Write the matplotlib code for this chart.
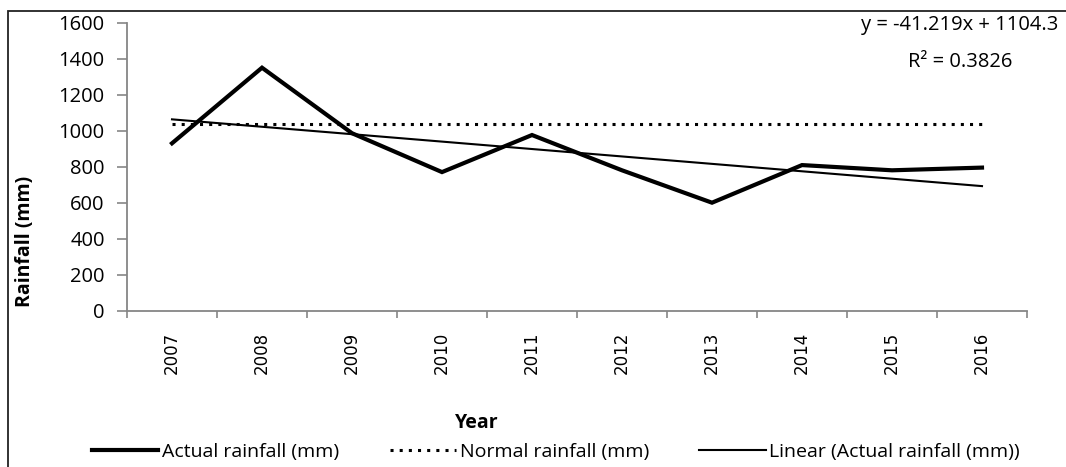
import numpy as np
import matplotlib
matplotlib.use("Agg")
import matplotlib.pyplot as plt
from matplotlib.patches import Rectangle
from matplotlib.lines import Line2D

# rainfall per year (mm)
years = ["2007", "2008", "2009", "2010", "2011", "2012", "2013", "2014", "2015", "2016"]
actual_rain = [930, 1350, 986, 770, 976, 780, 600, 809, 780, 795]
normal_rain = [1037, 1037, 1037, 1037, 1037, 1037, 1037, 1037, 1037, 1037]

# linear trend as reported on the chart (x = 1..10)
slope = -41.219
intercept = 1104.3
r_squared = 0.3826

y_ticks = [0, 200, 400, 600, 800, 1000, 1200, 1400, 1600]

W, H = 1066, 467
fig = plt.figure(figsize=(W / 100, H / 100), dpi=100)

# outer frame
fig.patches.append(Rectangle((8 / W, -0.05), 1.2, 1 - 11 / H + 0.05,
                             transform=fig.transFigure, fill=False,
                             edgecolor="#222222", linewidth=1.3))

ax = fig.add_axes([127 / W, 1 - 310.7 / H, 900 / W, 288 / H])

pos = np.arange(len(years))
trend_x = np.arange(1, len(years) + 1)
trend_y = slope * trend_x + intercept

ax.plot(pos, actual_rain, color="black", lw=3.0, solid_joinstyle="miter")
ax.plot(pos, normal_rain, color="black", lw=2.2, dashes=(1, 2), dash_capstyle="butt")
ax.plot(pos, trend_y, color="black", lw=1.5)

ax.set_xlim(-0.5, len(years) - 0.5)
ax.set_ylim(0, 1600)
ax.set_yticks(y_ticks)
ax.set_yticklabels([str(v) for v in y_ticks], fontsize=14.5, family="Open Sans")
ax.set_xticks(pos)
ax.set_xticklabels(years, rotation=90, fontsize=12, family="DejaVu Sans")
ax.set_xticks(np.arange(-0.5, len(years)), minor=True)
ax.tick_params(axis="x", which="major", length=0, pad=15)
ax.tick_params(axis="x", which="minor", length=5, width=1.2, color="#868686", direction="out")
ax.tick_params(axis="y", length=7, width=1.2, color="#868686", direction="out", pad=9)

for side in ["top", "right"]:
    ax.spines[side].set_visible(False)
for side in ["left", "bottom"]:
    ax.spines[side].set_color("#868686")
    ax.spines[side].set_linewidth(1.3)

fig.text(25 / W, 1 - 241 / H, "Rainfall (mm)", rotation=90, ha="center", va="center",
         fontsize=14, fontweight="bold", family="Open Sans")
fig.text(477 / W, 1 - 423 / H, "Year", ha="center", va="center",
         fontsize=14, fontweight="bold", family="Open Sans")

fig.text(960 / W, 1 - 25 / H, "y = %.3fx + %.1f" % (slope, intercept), ha="center", va="center",
         fontsize=14.5, family="Open Sans")
fig.text(960 / W, 1 - 62 / H, "R² = %.4f" % r_squared, ha="center", va="center",
         fontsize=14.5, family="Open Sans")

handles = [
    Line2D([], [], color="black", lw=3.0),
    Line2D([], [], color="black", lw=2.2, dashes=(1, 2), dash_capstyle="butt"),
    Line2D([], [], color="black", lw=1.5),
]
labels = ["Actual rainfall (mm)", "Normal rainfall (mm)", "Linear (Actual rainfall (mm))"]
fig.legend(handles, labels, loc="center", bbox_to_anchor=(556 / W, 1 - 452 / H), ncol=3,
           frameon=False, prop={"family": "Open Sans", "size": 14}, handlelength=3.4,
           handletextpad=0.2, columnspacing=2.6, borderaxespad=0, borderpad=0)

fig.savefig("out.png", dpi=100)
